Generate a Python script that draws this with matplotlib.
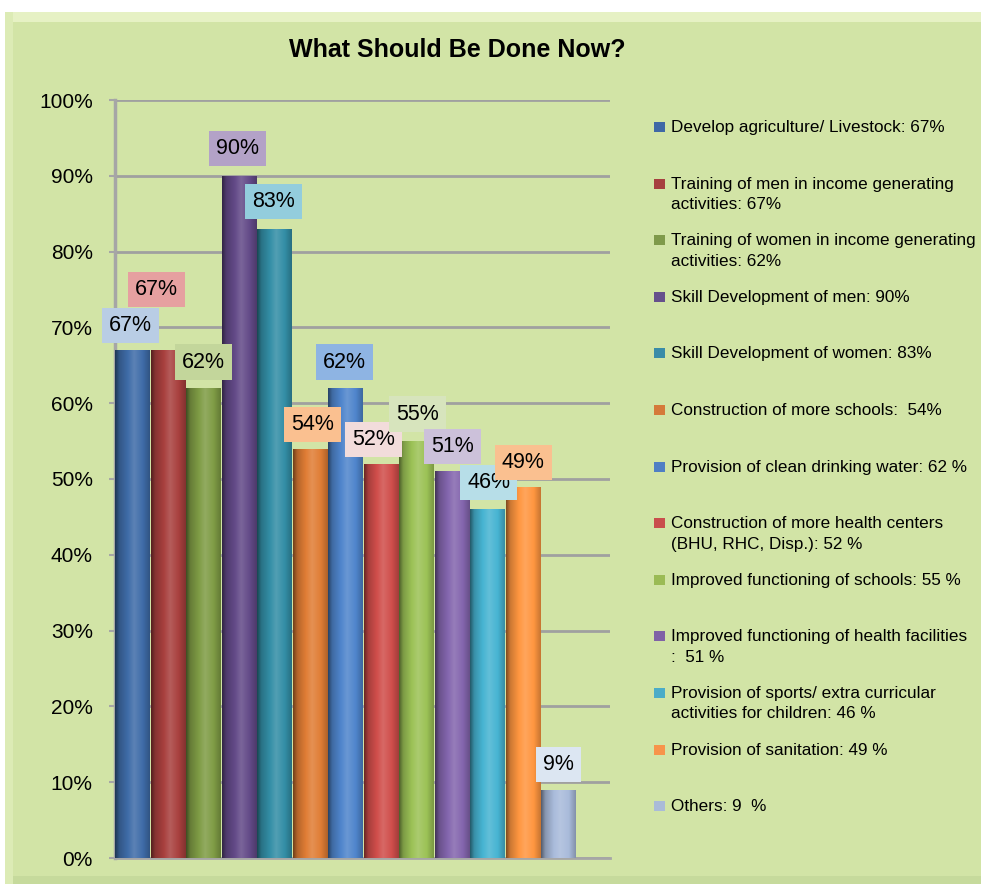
import numpy as np
import matplotlib
matplotlib.use('Agg')
import matplotlib.pyplot as plt
from matplotlib.patches import Rectangle
from matplotlib.colors import to_rgb

plt.rcParams['font.family'] = ['Liberation Sans', 'DejaVu Sans']

title = 'What Should Be Done Now?'
legend_labels = [
    'Develop agriculture/ Livestock: 67%',
    'Training of men in income generating\nactivities: 67%',
    'Training of women in income generating\nactivities: 62%',
    'Skill Development of men: 90%',
    'Skill Development of women: 83%',
    'Construction of more schools:  54%',
    'Provision of clean drinking water: 62 %',
    'Construction of more health centers\n(BHU, RHC, Disp.): 52 %',
    'Improved functioning of schools: 55 %',
    'Improved functioning of health facilities\n:  51 %',
    'Provision of sports/ extra curricular\nactivities for children: 46 %',
    'Provision of sanitation: 49 %',
    'Others: 9  %',
]
values = [67, 67, 62, 90, 83, 54, 62, 52, 55, 51, 46, 49, 9]

bar_colors = ['#3F6CA8', '#A8403E', '#7F9C45', '#634A88', '#338EA6', '#E07D35',
              '#4F85CC', '#D04E4B', '#9CC256', '#8466AE', '#47B4D2', '#FF9640', '#A9BBDB']
legend_colors = ['#3F68A6', '#A6403F', '#7F9A4A', '#66508C', '#3A8CA8', '#D57A3A',
                 '#4F7FC4', '#C94E4C', '#9BBB55', '#8062A6', '#4BACC8', '#F7944A', '#AABBD8']
label_colors = ['#B9CDE5', '#E6A0A0', '#C3D69B', '#B3A2C7', '#93CDDD', '#FAC090',
                '#8EB4E3', '#F2DCDB', '#D7E4BD', '#CCC1DA', '#B7DEE8', '#FAC090', '#DCE6F2']
# label nudges in pixels (dx, dy above bar top)
label_dx = [-2, -12, 0, -2, -1, 2, -1, -8, 1, 0, 1, 0, 0]
label_dy = [25, 61, 26, 27, 27, 24, 26, 24, 27, 25, 27, 24, 25]

W, H = 981, 884
fig = plt.figure(figsize=(W / 100, H / 100), dpi=100, facecolor='white')

# chart background panel with bevel
fig.patches.append(Rectangle((5 / W, 0), 1, 1 - 12 / H, transform=fig.transFigure,
                             fc='#D2E4A6', ec='none', zorder=-3))
fig.patches.append(Rectangle((5 / W, 1 - 22 / H), 1, 10 / H, transform=fig.transFigure,
                             fc='#E6F1C4', ec='none', zorder=-2))
fig.patches.append(Rectangle((5 / W, 0), 8 / W, 1 - 12 / H, transform=fig.transFigure,
                             fc='#DCEBB5', ec='none', zorder=-2))
fig.patches.append(Rectangle((13 / W, 0), 1, 8 / H, transform=fig.transFigure,
                             fc='#C6DA9C', ec='none', zorder=-2))

ax = fig.add_axes([115 / W, 26 / H, (610 - 115) / W, (858 - 100) / H])
ax.set_facecolor('none')

x = np.arange(len(values)) + 0.5
bars = ax.bar(x, values, width=0.98, color=bar_colors, zorder=3)


def shade(c, n=80):
    rgb = np.array(to_rgb(c))
    t = np.linspace(0, 1, n)
    f = np.interp(t, [0, 0.12, 0.55, 0.8, 1], [0.5, 0.8, 1.15, 1.0, 0.78])
    out = np.empty((1, n, 3))
    for i, fi in enumerate(f):
        if fi < 1:
            out[0, i] = rgb * fi
        else:
            out[0, i] = rgb + (1 - rgb) * (fi - 1)
    return np.clip(out, 0, 1)


for b, c in zip(bars, bar_colors):
    im = ax.imshow(shade(c), extent=(b.get_x(), b.get_x() + b.get_width(), 0, b.get_height()),
                   aspect='auto', zorder=3.5, interpolation='bilinear')
    im.set_clip_path(b)

for xi, v, lc, dx, dy in zip(x, values, label_colors, label_dx, label_dy):
    ax.annotate(f'{v}%', xy=(xi, v), xytext=(dx * 0.72, dy * 0.72), textcoords='offset points',
                ha='center', va='center', fontsize=15.5, zorder=6,
                bbox=dict(boxstyle='square,pad=0.33', fc=lc, ec='none'))

ax.set_xlim(0, (610 - 115) / 35.5)
ax.set_ylim(0, 100)
ax.set_yticks(range(0, 101, 10))
ax.set_yticklabels([f'{t}%' for t in range(0, 101, 10)])
ax.set_xticks([])
ax.yaxis.grid(True, color='#A0A0A0', lw=2)
ax.set_axisbelow(True)
for s in ['top', 'right']:
    ax.spines[s].set_visible(False)
ax.spines['left'].set_color('#A6A6A6')
ax.spines['left'].set_linewidth(2.5)
ax.spines['bottom'].set_color('#A6A6A6')
ax.spines['bottom'].set_linewidth(2)
ax.tick_params(axis='y', length=4, width=1.5, color='#A6A6A6', labelsize=15, pad=12)

fig.text(457 / W, 1 - 50 / H, title, ha='center', va='center', fontsize=18, fontweight='bold')

# legend
for i, (lab, c) in enumerate(zip(legend_labels, legend_colors)):
    yc = 127 + 56.6 * i
    fig.patches.append(Rectangle((654 / W, 1 - (yc + 5) / H), 11 / W, 10 / H,
                                 transform=fig.transFigure, fc=c, ec='none'))
    fig.text(671 / W, 1 - (yc - 7) / H, lab, ha='left', va='top', fontsize=12.3, linespacing=1.45)

fig.savefig('out.png', dpi=100, facecolor='white')
